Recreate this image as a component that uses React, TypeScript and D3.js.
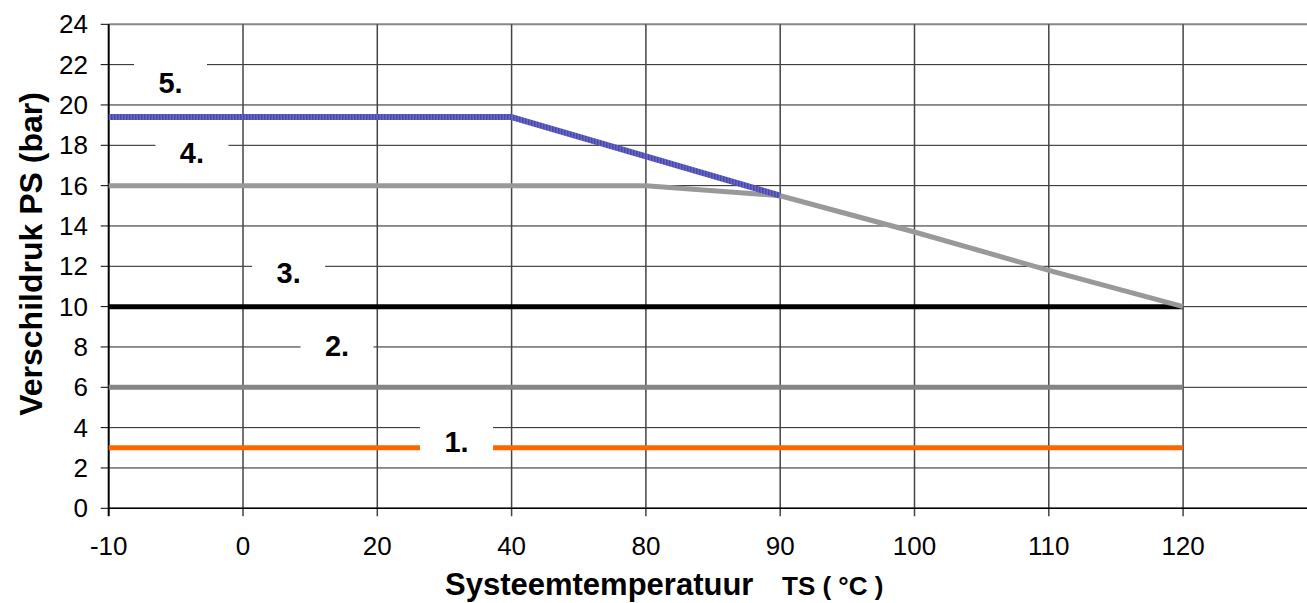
import React from "react";
import * as d3 from "d3";

const categories = ["-10", "0", "20", "40", "80", "90", "100", "110", "120"];
const yTicks = [0, 2, 4, 6, 8, 10, 12, 14, 16, 18, 20, 22, 24];

const series1 = [3, 3, 3, 3, 3, 3, 3, 3, 3];
const series2 = [6, 6, 6, 6, 6, 6, 6, 6, 6];
const series3 = [10, 10, 10, 10, 10, 10, 10, 10, 10];
const series4 = [16, 16, 16, 16, 16, 15.5, 13.7, 11.8, 10];
const series5 = [19.4, 19.4, 19.4, 19.4, 17.45, 15.5];

const labelTexts = ["1.", "2.", "3.", "4.", "5."];
const labelIdx = [2.59, 1.7, 1.34, 0.62, 0.46];
const labelVal = [3.3, 8.05, 11.67, 17.6, 21.1];

const W = 1307;
const H = 603;

export default function App() {
  const x = d3.scaleLinear().domain([0, 9]).range([108.7, 1317.4]);
  const y = d3.scaleLinear().domain([0, 24]).range([508.3, 24.3]);
  const line = d3
    .line<number>()
    .x((_, i) => x(i))
    .y((d) => y(d));

  const series = [
    { d: series1, color: "#ff6600", w: 5 },
    { d: series2, color: "#858585", w: 5 },
    { d: series3, color: "#000000", w: 5 },
    { d: series4, color: "#999999", w: 5 },
    { d: series5, color: "#5a5ab5", w: 6 },
  ];

  const font = "Arial, 'Liberation Sans', sans-serif";

  return (
    <svg
      width={W}
      height={H}
      style={{ position: "absolute", left: 0, top: 0, background: "#fff" }}
      fontFamily={font}
    >
      <defs>
        <pattern id="bluepat" width="3" height="3" patternUnits="userSpaceOnUse">
          <rect width="3" height="3" fill="#6666cc" />
          <rect width="1.5" height="3" fill="#4a4aa6" />
        </pattern>
      </defs>
      {/* horizontal grid */}
      {yTicks.map((t) => (
        <line
          key={"h" + t}
          x1={x(0)}
          x2={W}
          y1={y(t)}
          y2={y(t)}
          stroke={t === 24 ? "#888" : "#222"}
          strokeWidth={t === 24 ? 2 : 1}
        />
      ))}
      {/* vertical grid */}
      {categories.map((c, i) =>
        i === 0 ? null : (
          <line
            key={"v" + c}
            x1={x(i)}
            x2={x(i)}
            y1={y(24)}
            y2={y(0) + 8}
            stroke="#444"
            strokeWidth={1.5}
          />
        )
      )}
      {/* axes */}
      <line x1={x(0)} x2={x(0)} y1={y(24)} y2={y(0) + 8} stroke="#000" strokeWidth={2} />
      <line x1={x(0)} x2={W} y1={y(0)} y2={y(0)} stroke="#000" strokeWidth={1.5} />
      {yTicks.map((t) => (
        <g key={"yt" + t}>
          <line x1={x(0) - 8} x2={x(0)} y1={y(t)} y2={y(t)} stroke="#000" strokeWidth={1} />
          <text
            x={88}
            y={y(t)}
            textAnchor="end"
            dominantBaseline="central"
            fontSize={26}
            fill="#000"
          >
            {t}
          </text>
        </g>
      ))}
      {categories.map((c, i) => (
        <text key={"xt" + c} x={x(i)} y={555} textAnchor="middle" fontSize={26} fill="#000">
          {c}
        </text>
      ))}
      {/* series */}
      {series.map((s, k) => (
        <path
          key={"s" + k}
          d={line(s.d) || ""}
          fill="none"
          stroke={k === 4 ? "url(#bluepat)" : s.color}
          strokeWidth={s.w}
          strokeLinejoin="round"
        />
      ))}
      {/* labels */}
      {labelTexts.map((t, k) => (
        <g key={"lb" + k}>
          <rect
            x={x(labelIdx[k]) - 36.5}
            y={y(labelVal[k]) - 20}
            width={73}
            height={40}
            fill="#fff"
          />
          <text
            x={x(labelIdx[k])}
            y={y(labelVal[k])}
            textAnchor="middle"
            dominantBaseline="central"
            fontSize={29}
            fontWeight="bold"
            fill="#000"
          >
            {t}
          </text>
        </g>
      ))}
      {/* axis titles */}
      <text x={445} y={595} fontSize={31} fontWeight="bold" fill="#000">
        Systeemtemperatuur
      </text>
      <text x={782} y={595} fontSize={26} fontWeight="bold" fill="#000">
        TS ( °C )
      </text>
      <text
        transform={`translate(42,254) rotate(-90)`}
        textAnchor="middle"
        fontSize={32}
        fontWeight="bold"
        fill="#000"
      >
        Verschildruk PS (bar)
      </text>
    </svg>
  );
}
